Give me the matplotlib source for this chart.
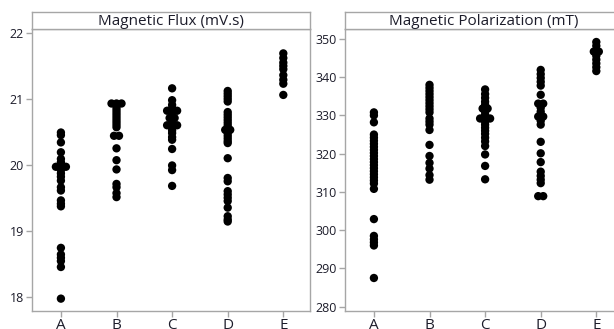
import numpy as np
import matplotlib
matplotlib.use("Agg")
import matplotlib.pyplot as plt

plt.rcParams['font.family'] = ['Open Sans', 'DejaVu Sans']

groups = ["A", "B", "C", "D", "E"]

# Magnetic flux (mV.s) per group
flux_A = [20.49, 20.45, 20.34, 20.19, 20.09, 20.04, 19.97, 19.97, 19.97, 19.92,
          19.87, 19.82, 19.76, 19.66, 19.61, 19.46, 19.41, 19.37, 18.74, 18.64,
          18.59, 18.54, 18.45, 17.97]
flux_B = [20.93, 20.93, 20.93, 20.89, 20.85, 20.81, 20.77, 20.73, 20.69, 20.65,
          20.61, 20.57, 20.44, 20.44, 20.25, 20.07, 19.93, 19.71, 19.66, 19.57,
          19.51]
flux_C = [21.16, 20.98, 20.91, 20.86, 20.82, 20.82, 20.82, 20.78, 20.74, 20.71,
          20.71, 20.67, 20.63, 20.60, 20.60, 20.60, 20.56, 20.52, 20.48, 20.42,
          20.38, 20.24, 19.99, 19.92, 19.68]
flux_D = [21.12, 21.08, 21.04, 21.00, 20.96, 20.80, 20.76, 20.72, 20.68, 20.64,
          20.60, 20.56, 20.53, 20.53, 20.48, 20.44, 20.40, 20.36, 20.33, 20.10,
          19.80, 19.75, 19.60, 19.55, 19.50, 19.45, 19.35, 19.22, 19.17, 19.14]
flux_E = [21.69, 21.62, 21.55, 21.50, 21.45, 21.36, 21.29, 21.23, 21.06]

# Magnetic polarization (mT) per group
pol_A = [330.8, 330.0, 328.2, 325.0, 324.2, 323.4, 322.6, 321.8, 321.0, 320.2,
         319.4, 318.6, 317.8, 317.0, 316.2, 315.4, 314.6, 313.8, 313.0, 312.2,
         310.8, 302.9, 298.5, 297.6, 296.8, 296.0, 287.5]
pol_B = [338.0, 337.2, 336.4, 335.6, 334.8, 334.0, 333.2, 332.4, 331.6, 330.8,
         329.2, 328.4, 327.6, 326.2, 322.3, 319.4, 317.6, 316.1, 314.4, 313.2]
pol_C = [336.8, 335.6, 334.6, 333.6, 332.8, 331.8, 331.8, 331.0, 330.2, 329.2,
         329.2, 329.2, 328.4, 327.6, 326.8, 326.0, 325.2, 324.2, 323.2, 322.0,
         319.8, 316.8, 313.3]
pol_D = [341.9, 340.8, 339.8, 338.8, 337.8, 335.4, 333.1, 333.1, 332.0, 331.0,
         329.7, 329.7, 328.6, 327.6, 323.1, 320.1, 317.8, 315.3, 314.2, 313.2,
         312.3, 308.9, 308.9]
pol_E = [349.2, 348.2, 346.7, 346.7, 345.6, 344.6, 343.6, 342.6, 341.6]

flux = [flux_A, flux_B, flux_C, flux_D, flux_E]
pol = [pol_A, pol_B, pol_C, pol_D, pol_E]

W, H = 614, 329
fig = plt.figure(figsize=(W / 100, H / 100), dpi=100)

EDGE = "#a6a6a6"
TXT = "#1c1c2a"


def px(x0, y0, x1, y1):
    """Pixel box (top-left origin) to figure fraction rect."""
    return [x0 / W, (H - y1) / H, (x1 - x0) / W, (y1 - y0) / H]


def individual_values(ax, data, step=0.09):
    for i, vals in enumerate(data):
        vals = np.asarray(vals)
        xs = np.full(len(vals), float(i))
        for v in np.unique(vals):
            idx = np.where(vals == v)[0]
            k = len(idx)
            xs[idx] = i + (np.arange(k) - (k - 1) / 2) * step
        ax.scatter(xs, vals, s=36, color="black", edgecolors="none", zorder=3)


def panel(x0, data, ylim, yticks, title):
    ax = fig.add_axes(px(x0, 29, x0 + 278, 310.5))
    individual_values(ax, data)
    ax.set_xlim(-0.52, 4.48)
    ax.set_ylim(*ylim)
    ax.set_xticks(range(len(groups)))
    ax.set_xticklabels(groups, fontsize=11, color=TXT)
    ax.set_yticks(yticks)
    ax.set_yticklabels([str(t) for t in yticks], fontsize=9, color=TXT)
    for s in ax.spines.values():
        s.set_color(EDGE)
        s.set_linewidth(1.0)
    ax.tick_params(axis="both", direction="out", length=4, width=1,
                   color=EDGE)
    ax.tick_params(axis="y", pad=2)
    ax.tick_params(axis="x", pad=1.5)

    hd = fig.add_axes(px(x0, 12, x0 + 278, 29))
    hd.set_xticks([])
    hd.set_yticks([])
    hd.set_facecolor("white")
    for s in hd.spines.values():
        s.set_color(EDGE)
        s.set_linewidth(1.0)
    hd.text(0.5, 0.42, title, ha="center", va="center", fontsize=11,
            color=TXT, transform=hd.transAxes)
    return ax


panel(32, flux, (17.79, 22.06), [18, 19, 20, 21, 22], "Magnetic Flux (mV.s)")
panel(345, pol, (279.0, 352.6), list(range(280, 351, 10)),
      "Magnetic Polarization (mT)")

fig.savefig("out.png", dpi=100)
